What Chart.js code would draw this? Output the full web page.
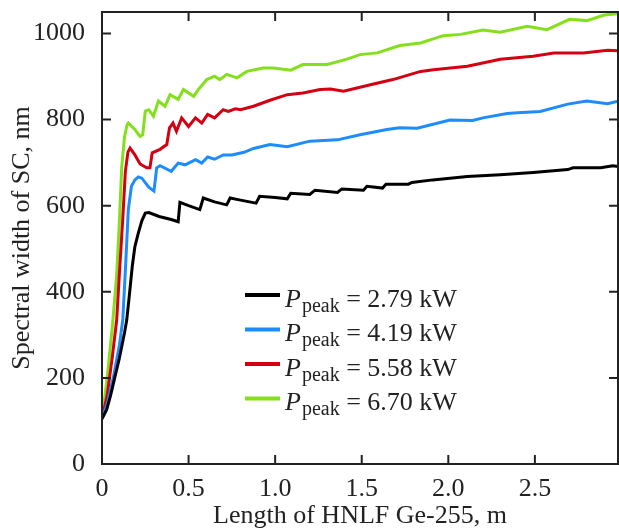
<!DOCTYPE html>
<html>
	<head>
		<title>Spectral width of SC</title>
		<meta charset="utf-8">
		<script src="https://cdn.jsdelivr.net/npm/chart.js"></script>
		<style>
			body { margin: 0; background: #fff; }
			canvas { display: block; }
		</style>
	</head>
	<body>
		<canvas id="scWidth" width="619" height="529"></canvas>

		<script>

			// Values (length in m, width in nm).
			const powers = ['2.79', '4.19', '5.58', '6.70'];
			const colors = ['#000000', '#1c8cff', '#d40012', '#84e01c'];

			const blackX = [0, 0.027, 0.05, 0.075, 0.1, 0.114, 0.13, 0.143, 0.16, 0.175, 0.19, 0.21, 0.23, 0.25, 0.27, 0.33, 0.40, 0.44, 0.45, 0.50, 0.565, 0.585, 0.65, 0.72, 0.74, 0.80, 0.89, 0.91, 1.0, 1.07, 1.09, 1.20, 1.23, 1.36, 1.385, 1.51, 1.53, 1.62, 1.64, 1.77, 1.79, 1.91, 2.11, 2.30, 2.49, 2.69, 2.72, 2.88, 2.95, 2.98];
			const blackY = [105, 126, 160, 203, 245, 273, 305, 335, 400, 460, 505, 537, 565, 583, 584, 575, 568, 563, 608, 600, 591, 618, 609, 602, 618, 613, 606, 622, 619, 616, 629, 626, 636, 631, 639, 636, 645, 641, 650, 650, 654, 660, 668, 672, 677, 684, 688, 688, 693, 691];

			const blueX = [0, 0.03, 0.065, 0.1, 0.12, 0.135, 0.152, 0.17, 0.19, 0.21, 0.23, 0.27, 0.30, 0.316, 0.335, 0.40, 0.44, 0.48, 0.54, 0.576, 0.61, 0.65, 0.70, 0.75, 0.82, 0.875, 0.97, 1.07, 1.20, 1.36, 1.49, 1.645, 1.72, 1.82, 2.01, 2.14, 2.20, 2.34, 2.40, 2.53, 2.69, 2.80, 2.92, 2.98];
			const blueY = [105, 140, 200, 275, 335, 450, 591, 645, 660, 667, 664, 643, 634, 688, 693, 680, 699, 695, 707, 699, 713, 708, 718, 718, 724, 733, 742, 737, 750, 753, 765, 777, 781, 780, 799, 798, 804, 814, 816, 819, 836, 843, 837, 843];

			const redX = [0, 0.03, 0.06, 0.085, 0.1, 0.12, 0.135, 0.15, 0.162, 0.19, 0.22, 0.258, 0.277, 0.29, 0.335, 0.374, 0.39, 0.41, 0.43, 0.46, 0.50, 0.54, 0.576, 0.61, 0.65, 0.70, 0.73, 0.77, 0.80, 0.875, 0.97, 1.07, 1.16, 1.26, 1.32, 1.395, 1.55, 1.68, 1.84, 1.915, 2.11, 2.30, 2.49, 2.61, 2.78, 2.92, 2.98];
			const redY = [105, 160, 250, 335, 440, 570, 680, 725, 734, 718, 697, 688, 688, 723, 731, 742, 781, 792, 773, 804, 784, 804, 792, 812, 804, 823, 819, 825, 823, 831, 845, 858, 862, 870, 871, 866, 881, 893, 912, 916, 924, 940, 947, 955, 955, 961, 960];

			const greenX = [0, 0.03, 0.06, 0.085, 0.1, 0.114, 0.13, 0.145, 0.152, 0.19, 0.22, 0.235, 0.25, 0.27, 0.297, 0.326, 0.364, 0.393, 0.44, 0.47, 0.53, 0.557, 0.605, 0.65, 0.68, 0.72, 0.78, 0.836, 0.93, 0.99, 1.09, 1.16, 1.30, 1.41, 1.49, 1.59, 1.72, 1.84, 1.97, 2.07, 2.20, 2.30, 2.455, 2.57, 2.70, 2.80, 2.90, 2.98];
			const greenY = [105, 200, 320, 440, 560, 690, 760, 788, 792, 777, 761, 765, 820, 823, 808, 843, 831, 858, 847, 870, 854, 870, 893, 901, 893, 905, 897, 912, 920, 920, 915, 928, 928, 940, 951, 955, 972, 978, 995, 998, 1008, 1003, 1017, 1009, 1033, 1030, 1043, 1046];

			const seriesX = [blackX, blueX, redX, greenX];
			const seriesY = [blackY, blueY, redY, greenY];

			const xTicks = [0, 0.5, 1.0, 1.5, 2.0, 2.5];
			const yTicks = [0, 200, 400, 600, 800, 1000];

			const serif = '"Liberation Serif", "Times New Roman", serif';
			const ink = '#222222';

			// Frame with inward ticks on all four sides.
			const framePlugin = {
				id: 'frame',
				afterDatasetsDraw(chart) {
					const ctx = chart.ctx;
					const a = chart.chartArea;
					const xs = chart.scales.x, ys = chart.scales.y;
					ctx.save();
					ctx.strokeStyle = ink;
					ctx.lineWidth = 2;
					ctx.strokeRect(a.left, a.top, a.right - a.left, a.bottom - a.top);
					ctx.beginPath();
					xTicks.slice(1).forEach(v => {
						const px = xs.getPixelForValue(v);
						ctx.moveTo(px, a.bottom); ctx.lineTo(px, a.bottom - 9);
						ctx.moveTo(px, a.top); ctx.lineTo(px, a.top + 9);
					});
					yTicks.slice(1).forEach(v => {
						const py = ys.getPixelForValue(v);
						ctx.moveTo(a.left, py); ctx.lineTo(a.left + 9, py);
						ctx.moveTo(a.right, py); ctx.lineTo(a.right - 9, py);
					});
					ctx.stroke();
					ctx.restore();
				}
			};

			// Legend with a subscript, which the built-in legend cannot do.
			const legendPlugin = {
				id: 'peakLegend',
				afterDraw(chart) {
					const ctx = chart.ctx;
					ctx.save();
					ctx.textBaseline = 'alphabetic';
					ctx.fillStyle = ink;
					powers.forEach((p, i) => {
						const y = 295 + i * 34.5;
						ctx.strokeStyle = colors[i];
						ctx.lineWidth = 4;
						ctx.beginPath();
						ctx.moveTo(245, y);
						ctx.lineTo(280, y);
						ctx.stroke();

						const base = y + 11.5;
						let x = 285;
						ctx.font = 'italic 26px ' + serif;
						ctx.fillText('P', x, base);
						x += ctx.measureText('P').width + 1;
						ctx.font = '20px ' + serif;
						ctx.fillText('peak', x, base + 5);
						x += ctx.measureText('peak').width;
						ctx.font = '26px ' + serif;
						ctx.fillText(' = ' + p + ' kW', x, base);
					});
					ctx.restore();
				}
			};

			const datasets = seriesX.map((xs, i) => ({
				label: 'P peak = ' + powers[i] + ' kW',
				data: xs.map((x, j) => ({ x: x, y: seriesY[i][j] })),
				borderColor: colors[i],
				backgroundColor: colors[i],
				borderWidth: 3,
				pointRadius: 0,
				tension: 0,
				fill: false
			}));

			new Chart(document.getElementById('scWidth'), {
				type: 'line',
				data: { datasets: datasets },
				options: {
					responsive: false,
					animation: false,
					layout: { padding: { top: 12, right: 1, left: 0, bottom: 0 } },
					plugins: {
						legend: { display: false },
						tooltip: { enabled: false }
					},
					scales: {
						x: {
							type: 'linear',
							min: 0,
							max: 2.98,
							grid: { display: false },
							border: { display: false },
							afterBuildTicks: s => { s.ticks = xTicks.map(v => ({ value: v })); },
							afterFit: s => { s.height = 65; s.paddingLeft = 0; s.paddingRight = 0; },
							ticks: {
								autoSkip: false,
								maxRotation: 0,
								padding: 2,
								color: ink,
								font: { family: serif, size: 26 },
								callback: v => v === 0 ? '0' : v.toFixed(1)
							},
							title: {
								display: true,
								text: 'Length of HNLF Ge-255, m',
								color: ink,
								font: { family: serif, size: 26, lineHeight: 1 },
								padding: 0
							}
						},
						y: {
							min: 0,
							max: 1050,
							grid: { display: false },
							border: { display: false },
							afterBuildTicks: s => { s.ticks = yTicks.map(v => ({ value: v })); },
							afterFit: s => { s.width = 102; s.paddingTop = 0; s.paddingBottom = 0; },
							ticks: {
								padding: 9,
								color: ink,
								font: { family: serif, size: 26 },
								callback: v => String(v)
							},
							title: {
								display: true,
								text: 'Spectral width of SC, nm',
								color: ink,
								font: { family: serif, size: 26, lineHeight: 1 },
								padding: { top: 9, bottom: 0 }
							}
						}
					}
				},
				plugins: [framePlugin, legendPlugin]
			});

		</script>
	</body>
</html>
